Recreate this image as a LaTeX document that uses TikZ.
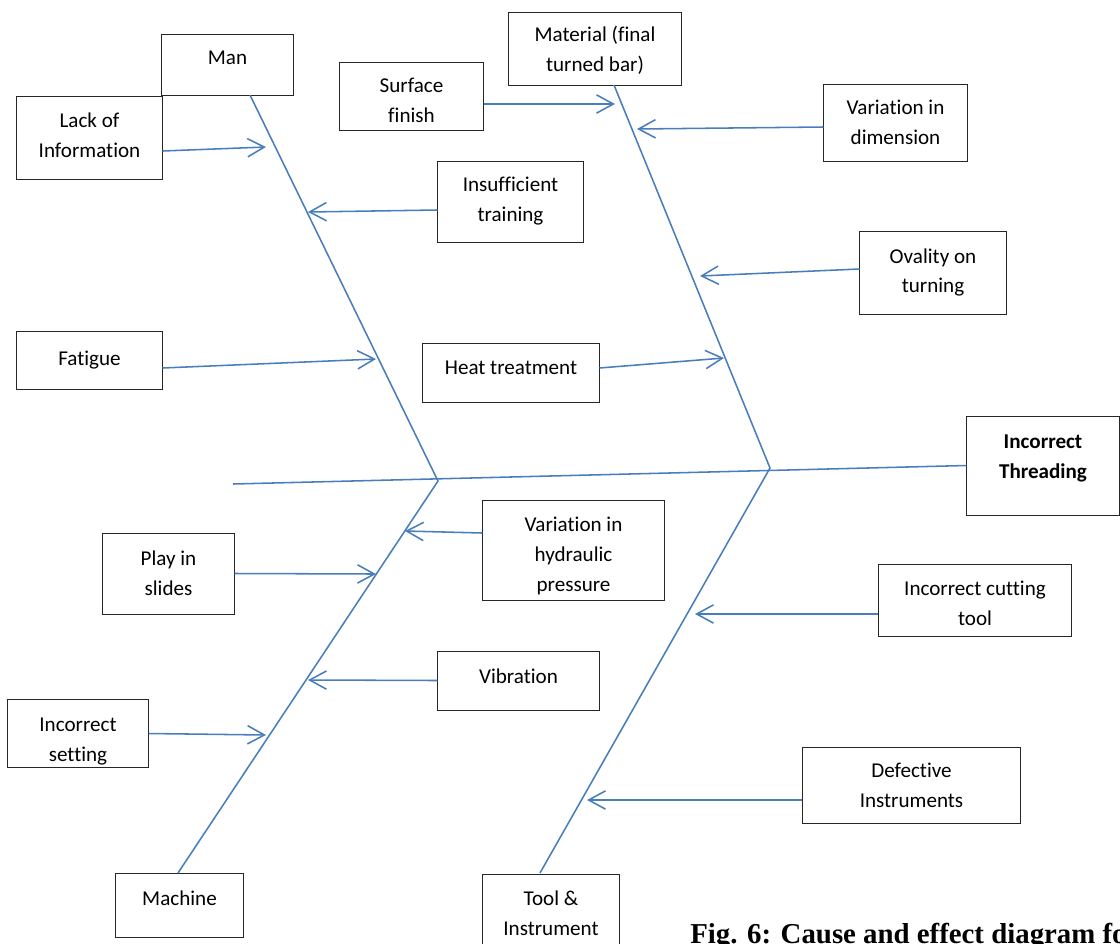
\documentclass[tikz,border=0pt]{standalone}
\usepackage{fontspec}
\setmainfont{Carlito}[Ligatures=CommonOff]
\newfontfamily\capfont{Liberation Serif}
\usetikzlibrary{arrows.meta,calc}
\definecolor{bonecol}{HTML}{4A7EBB}
% struts that move a label up (extra depth) or down (extra height) in its box
\newcommand{\tup}[1]{\rule[-#1]{0pt}{0pt}}
\newcommand{\tdn}[1]{\rule{0pt}{#1}}

\begin{document}
\begin{tikzpicture}[x=0.025cm, y=-0.025cm,
  cause/.style={draw=black!85, line width=0.7pt, align=center, inner sep=2pt, font=\fontsize{15}{21.3}\selectfont},
  bone/.style={draw=bonecol, line width=1.1pt},
  arr/.style={bone, -{Straight Barb[length=12pt,width=13pt]}}
]
\useasboundingbox (0,0) rectangle (1120,943);

% effect
\node[cause, minimum width=3.8cm, minimum height=2.475cm, font=\fontsize{15}{21.3}\selectfont\bfseries] (thr) at (1043,465.5) {Incorrect\\Threading\tup{13pt}};

% main categories
\node[cause, minimum width=3.275cm, minimum height=1.525cm] (man) at (227.5,64.5) {Man\tup{10pt}};
\node[cause, minimum width=4.3cm, minimum height=1.825cm] (mat) at (595,48.5) {\tdn{14pt}Material (final\\turned bar)};
\node[cause, minimum width=3.2cm, minimum height=1.6cm] (mach) at (179.5,905.5) {Machine\tup{10pt}};
\node[cause, minimum width=3.4cm, minimum height=1.95cm] (tool) at (551,913) {Tool \&\\Instrument};

% causes
\node[cause, minimum width=3.575cm, minimum height=1.7cm] (surf) at (411.5,96) {\tdn{16.3pt}Surface\\finish};
\node[cause, minimum width=3.625cm, minimum height=2.075cm] (lack) at (89.5,137.5) {Lack of\\Information\tup{3pt}};
\node[cause, minimum width=3.575cm, minimum height=1.925cm] (vdim) at (895.5,122.5) {Variation in\\dimension};
\node[cause, minimum width=3.625cm, minimum height=2.025cm] (train) at (510.5,201.5) {Insufficient\\training};
\node[cause, minimum width=3.65cm, minimum height=2.075cm] (oval) at (933,272.5) {Ovality on\\turning};
\node[cause, minimum width=3.625cm, minimum height=1.45cm] (fat) at (89.5,360) {Fatigue};
\node[cause, minimum width=4.4cm, minimum height=1.475cm] (heat) at (511,372.5) {Heat treatment\tup{7pt}};
\node[cause, minimum width=4.525cm, minimum height=2.5cm] (hyd) at (573.5,550) {\tdn{18.7pt}Variation in\\hydraulic\\pressure};
\node[cause, minimum width=3.275cm, minimum height=2.025cm] (play) at (168.5,573.5) {Play in\\slides};
\node[cause, minimum width=4.8cm, minimum height=1.8cm] (cut) at (975,600) {\tdn{14.5pt}Incorrect cutting\\tool};
\node[cause, minimum width=4.025cm, minimum height=1.475cm] (vib) at (518.5,680.5) {Vibration\tup{5.7pt}};
\node[cause, minimum width=3.5cm, minimum height=1.675cm] (set) at (78,733.5) {\tdn{21pt}Incorrect\\setting};
\node[cause, minimum width=5.425cm, minimum height=1.9cm] (def) at (911.5,785) {Defective\\Instruments};

% bones
\coordinate (tail) at (233,484);
\coordinate (manT) at (250,95);
\coordinate (manE) at (438,481);
\coordinate (matT) at (614,85);
\coordinate (matE) at (770,468);
\coordinate (machT) at (178,873);
\coordinate (toolT) at (540,873);
\draw[bone] (thr.west) -- (tail);
\draw[bone] (manT) -- (manE) -- (machT);
\draw[bone] (matT) -- (matE) -- (toolT);

% arrow tips on the bones
\coordinate (a1) at (266,147);
\coordinate (a2) at (615,104);
\coordinate (a3) at (637,129);
\coordinate (a4) at (308,212);
\coordinate (a5) at (700,276);
\coordinate (a6) at (376,359);
\coordinate (a7) at (724,358);
\coordinate (a8) at (405,531);
\coordinate (a9) at (376,574);
\coordinate (a10) at (695,614);
\coordinate (a11) at (308,680);
\coordinate (a12) at (266,735);
\coordinate (a13) at (587,800);

\draw[arr] ($(lack.east)+(0,13.5)$) -- (a1);
\draw[arr] ($(surf.east)+(0,8)$) -- (a2);
\draw[arr] ($(vdim.west)+(0,4.5)$) -- (a3);
\draw[arr] ($(train.west)+(0,8.5)$) -- (a4);
\draw[arr] ($(oval.west)+(0,-3.5)$) -- (a5);
\draw[arr] ($(fat.east)+(0,8)$) -- (a6);
\draw[arr] ($(heat.east)+(0,-4.5)$) -- (a7);
\draw[arr] ($(hyd.west)+(0,-17)$) -- (a8);
\draw[arr] (play.east) -- (a9);
\draw[arr] ($(cut.west)+(0,14)$) -- (a10);
\draw[arr] (vib.west) -- (a11);
\draw[arr] (set.east) -- (a12);
\draw[arr] ($(def.west)+(0,15)$) -- (a13);

% caption
\node[anchor=base west, inner sep=0pt, font=\capfont\fontsize{20.5}{24}\selectfont\bfseries] (cap) at (690,943) {Fig. 6: Cause and effect diagram for};
\end{tikzpicture}
\end{document}
